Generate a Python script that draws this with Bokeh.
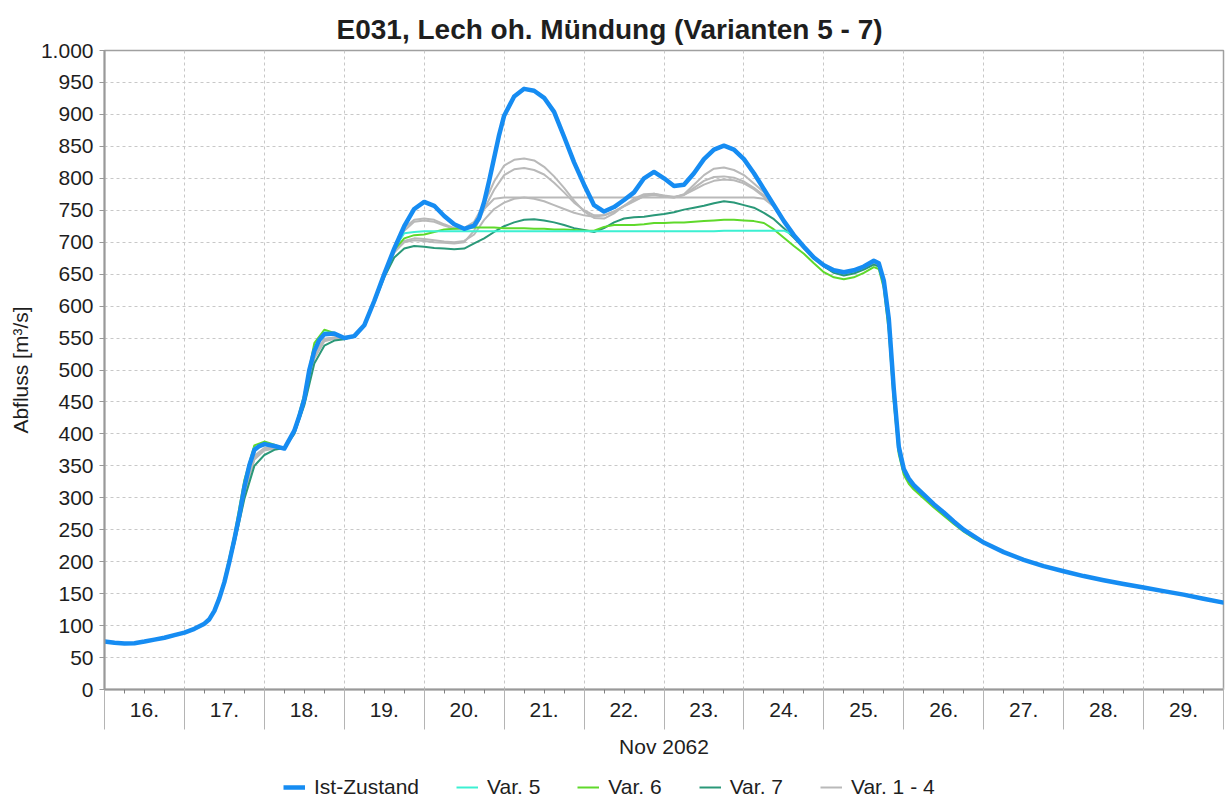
from bokeh.plotting import figure
from bokeh.layouts import column
from bokeh.models import FixedTicker, Legend, LegendItem, LinearAxis, Range1d
from bokeh.embed import file_html
from bokeh.resources import INLINE

FONT = "Liberation Sans"

# ---------------- data ----------------
days_ist = [16.0, 16.125, 16.25, 16.375, 16.5, 16.625, 16.75, 16.875, 17.0, 17.125, 17.25, 17.3125, 17.375,
            17.4375, 17.5, 17.5625, 17.625, 17.6875, 17.75, 17.8125, 17.875, 17.9375, 18.0, 18.125, 18.25,
            18.375, 18.4375, 18.5, 18.5625, 18.625, 18.6875, 18.75, 18.875,
            19.0, 19.125, 19.25, 19.375, 19.5, 19.625, 19.75, 19.875, 20.0, 20.125, 20.25, 20.375,
            20.5, 20.625, 20.6875, 20.75, 20.8125, 20.875, 20.9375, 21.0, 21.125, 21.25, 21.375, 21.5,
            21.625, 21.75, 21.875,
            22.0, 22.125, 22.25, 22.375, 22.5, 22.625, 22.75, 22.875, 23.0, 23.125, 23.25, 23.375,
            23.5, 23.625, 23.75, 23.875, 24.0, 24.125, 24.25, 24.375, 24.5, 24.625, 24.75, 24.875,
            25.0, 25.125, 25.25, 25.375, 25.5, 25.625, 25.6875, 25.75, 25.8125, 25.875, 25.9375,
            26.0, 26.0625, 26.125, 26.25, 26.375, 26.5, 26.625, 26.75, 26.875, 27.0,
            27.25, 27.5, 27.75, 28.0, 28.25, 28.5, 28.75, 29.0, 29.25, 29.5, 29.75, 30.0]
ist = [75, 73, 72, 72.5, 75, 78, 81, 85, 89, 95, 103, 110, 123,
       143, 168, 200, 235, 273, 317, 351, 375, 381, 384, 381, 377,
       405, 428, 455, 500, 530, 547, 556, 557,
       550, 553, 570, 608, 650, 690, 725, 752, 763, 757, 741, 728,
       721, 726, 738, 763, 796, 832, 868, 898, 928, 940, 937, 926,
       904, 865, 825,
       790, 758, 748, 755, 766, 778, 800, 810, 800, 788, 790, 808,
       830, 845, 851, 845, 830, 808, 783, 758, 733, 711, 693, 676,
       664, 656, 653, 656, 662, 671, 667, 640, 580, 470, 380,
       345, 330, 320, 305, 290, 277, 263, 250, 240, 230,
       215, 203, 193, 185, 177.5, 171, 165, 159.5, 154, 148.5, 142, 136]

days_var = [17.5, 17.625, 17.75, 17.875, 18.0, 18.125, 18.25, 18.375, 18.5, 18.625, 18.75, 18.875,
            19.0, 19.125, 19.25, 19.375, 19.5, 19.625, 19.75, 19.875, 20.0, 20.125, 20.25, 20.375,
            20.5, 20.625, 20.75, 20.875, 21.0, 21.125, 21.25, 21.375, 21.5, 21.625, 21.75, 21.875,
            22.0, 22.125, 22.25, 22.375, 22.5, 22.625, 22.75, 22.875, 23.0, 23.125, 23.25, 23.375,
            23.5, 23.625, 23.75, 23.875, 24.0, 24.125, 24.25, 24.375, 24.5, 24.625, 24.75, 24.875,
            25.0, 25.125, 25.25, 25.375, 25.5, 25.625, 25.6875, 25.75, 25.8125, 25.875, 25.9375,
            26.0, 26.0625, 26.125, 26.25, 26.375, 26.5, 26.625, 26.75, 26.875, 27.0]

var5 = [170, 236, 320, 378, 385, 381, 377, 405, 457, 534, 559, 557,
        550, 553, 570, 608, 650, 690, 714, 716, 717, 717, 717, 717,
        717, 717, 717, 717, 717, 717, 717, 717, 717, 717, 717, 717,
        717, 717, 717, 717, 717, 717, 717, 717, 717, 717, 717, 717,
        717, 717, 718, 718, 718, 718, 718, 718, 718, 711, 693, 676,
        664, 656, 653, 656, 662, 671, 667, 640, 580, 470, 380,
        345, 330, 320, 305, 290, 277, 263, 250, 240, 230]
var6 = [172, 242, 328, 382, 388, 383, 377, 405, 462, 542, 563, 558,
        550, 553, 570, 608, 650, 688, 706, 711, 712, 716, 720, 721,
        722, 723, 723, 723, 722, 722, 722, 721, 721, 720, 720, 719,
        718, 718, 724, 727, 727, 727, 728, 730, 730, 731, 731, 732,
        733, 734, 735, 735, 734, 733, 730, 720, 707, 694, 682, 667,
        653, 645, 642, 645, 652, 661, 658, 628, 560, 450, 368,
        336, 322, 313, 299, 285, 272, 259, 247, 237, 229]
var7 = [168, 228, 298, 350, 367, 375, 378, 400, 445, 510, 538, 546,
        548, 553, 570, 605, 645, 676, 690, 694, 693, 691, 690, 689,
        690, 698, 706, 716, 725, 731, 735, 736, 734, 731, 727, 722,
        719, 716, 722, 731, 737, 739, 740, 742, 744, 747, 751, 754,
        757, 761, 764, 762, 758, 754, 746, 736, 722, 707, 691, 676,
        662, 652, 648, 651, 657, 665, 662, 634, 568, 458, 372,
        340, 326, 316, 302, 288, 275, 262, 249, 239, 230]
var1 = [170, 233, 310, 364, 377, 379, 378, 402, 450, 522, 548, 551,
        549, 553, 570, 607, 648, 688, 722, 735, 737, 735, 728, 722,
        722, 732, 760, 795, 820, 829, 831, 828, 818, 803, 785, 765,
        748, 738, 737, 745, 757, 768, 775, 776, 772, 770, 775, 790,
        805, 815, 817, 813, 805, 792, 778, 758, 735, 712, 692, 675,
        663, 655, 651, 654, 660, 669, 665, 636, 572, 462, 375,
        342, 328, 318, 303, 289, 276, 262, 250, 240, 230]
var2 = [170, 232, 308, 361, 375, 378, 378, 402, 449, 520, 546, 550,
        549, 553, 570, 607, 648, 688, 718, 732, 734, 732, 726, 721,
        721, 728, 752, 782, 805, 814, 816, 813, 806, 793, 778, 762,
        750, 742, 742, 748, 757, 765, 772, 774, 771, 770, 774, 785,
        796, 802, 803, 801, 795, 785, 773, 756, 734, 711, 691, 675,
        663, 655, 651, 654, 660, 669, 665, 636, 572, 462, 375,
        342, 328, 318, 303, 289, 276, 262, 250, 240, 230]
var3 = [170, 233, 312, 366, 378, 379, 378, 403, 451, 524, 549, 551,
        549, 553, 570, 607, 648, 684, 700, 703, 702, 700, 699, 698,
        700, 718, 752, 768, 770, 770, 770, 770, 770, 770, 770, 770,
        770, 770, 770, 770, 770, 770, 770, 770, 770, 770, 770, 770,
        770, 770, 770, 770, 770, 770, 768, 756, 734, 711, 691, 675,
        662, 654, 650, 653, 659, 668, 664, 635, 570, 460, 374,
        341, 327, 317, 302, 288, 275, 262, 249, 239, 230]
var4 = [169, 231, 306, 360, 374, 377, 378, 401, 448, 518, 545, 549,
        549, 553, 570, 607, 648, 684, 702, 706, 705, 703, 701, 700,
        702, 712, 735, 752, 762, 768, 770, 768, 764, 758, 752, 746,
        742, 740, 742, 748, 756, 764, 772, 776, 773, 771, 774, 782,
        790, 796, 798, 797, 792, 783, 771, 755, 733, 710, 690, 674,
        662, 654, 650, 653, 659, 668, 664, 635, 570, 460, 374,
        341, 327, 317, 302, 288, 275, 262, 249, 239, 230]

day_ticks = list(range(16, 31))
label_ticks = [d + 0.5 for d in range(16, 30)]
quarter_ticks = [d + q for d in range(16, 30) for q in (0.25, 0.5, 0.75)]
day_labels = ["16.", "17.", "18.", "19.", "20.", "21.", "22.", "23.", "24.", "25.", "26.", "27.", "28.", "29."]
y_ticks = list(range(0, 1001, 50))
series_names = ["Ist-Zustand", "Var. 5", "Var. 6", "Var. 7", "Var. 1 - 4"]

COL_IST = "#168cf2"
COL_V5 = "#3cf0d2"
COL_V6 = "#5fd92b"
COL_V7 = "#2a9878"
COL_GRAY = "#b9b9b9"
TEXT = "#1e1e1e"

# ---------------- main figure ----------------
p = figure(width=1226, height=766, output_backend="svg", toolbar_location=None,
           x_range=Range1d(16, 30), y_range=Range1d(0, 1000),
           min_border_left=104, min_border_right=3, min_border_top=50, min_border_bottom=77)
p.background_fill_color = "white"
p.border_fill_color = "white"
p.outline_line_color = "#a0a0a0"
p.outline_line_width = 1.5

p.title.text = "E031, Lech oh. Mündung (Varianten 5 - 7)"
p.title.text_font = FONT
p.title.text_font_size = "28px"
p.title.text_font_style = "bold"
p.title.text_color = TEXT
p.title.align = "left"
p.title.offset = 232
p.title.standoff = 11

# x axis A: day labels (centred in each day) + quarter-day ticks
xa = p.xaxis[0]
xa.ticker = FixedTicker(ticks=label_ticks, minor_ticks=quarter_ticks)
xa.major_label_overrides = {t: lab for t, lab in zip(label_ticks, day_labels)}
xa.major_label_text_font = FONT
xa.major_label_text_font_size = "21px"
xa.major_label_text_color = TEXT
xa.major_label_standoff = 9
xa.major_tick_line_color = None
xa.major_tick_out = 4
xa.major_tick_in = 0
xa.minor_tick_out = 4
xa.minor_tick_in = 0
xa.minor_tick_line_color = "#808080"
xa.axis_line_color = "#999999"
xa.axis_line_width = 2

# x axis B: day boundary separators + "Nov 2062"
xb = LinearAxis(ticker=FixedTicker(ticks=day_ticks, minor_ticks=[]))
xb.axis_line_color = None
xb.major_tick_line_color = "#b4b4b4"
xb.major_tick_in = 32
xb.major_tick_out = 10
xb.minor_tick_line_color = None
xb.major_label_overrides = {d: "" for d in day_ticks}
xb.major_label_standoff = 0
xb.major_label_text_font_size = "1px"
xb.axis_label = "Nov 2062"
xb.axis_label_text_font = FONT
xb.axis_label_text_font_size = "21px"
xb.axis_label_text_font_style = "normal"
xb.axis_label_text_color = TEXT
xb.axis_label_standoff = 5
p.add_layout(xb, "below")

# y axis
ya = p.yaxis[0]
ya.ticker = FixedTicker(ticks=y_ticks)
ya.major_label_overrides = {1000: "1.000"}
ya.major_label_text_font = FONT
ya.major_label_text_font_size = "21px"
ya.major_label_text_color = TEXT
ya.major_label_standoff = 6
ya.major_tick_out = 5
ya.major_tick_in = 0
ya.major_tick_line_color = "#999999"
ya.minor_tick_line_color = None
ya.axis_line_color = "#999999"
ya.axis_line_width = 2
ya.axis_label = "Abfluss [m³/s]"
ya.axis_label_text_font = FONT
ya.axis_label_text_font_size = "21px"
ya.axis_label_text_font_style = "normal"
ya.axis_label_text_color = TEXT
ya.axis_label_standoff = 6

p.xgrid[0].ticker = FixedTicker(ticks=day_ticks)
for g in (p.xgrid[0], p.ygrid[0]):
    g.grid_line_color = "#c8c8c8"
    g.grid_line_dash = "3 3"
    g.grid_line_width = 1

# ---------------- lines ----------------
kw = dict(line_join="round", line_cap="round")
r_g1 = p.line(days_var, var1, line_color=COL_GRAY, line_width=2, **kw)
r_g2 = p.line(days_var, var2, line_color=COL_GRAY, line_width=2, **kw)
r_g3 = p.line(days_var, var3, line_color=COL_GRAY, line_width=2, **kw)
r_g4 = p.line(days_var, var4, line_color=COL_GRAY, line_width=2, **kw)
r_v7 = p.line(days_var, var7, line_color=COL_V7, line_width=2, **kw)
r_v6 = p.line(days_var, var6, line_color=COL_V6, line_width=2, **kw)
r_v5 = p.line(days_var, var5, line_color=COL_V5, line_width=2, **kw)
r_ist = p.line(days_ist, ist, line_color=COL_IST, line_width=4.5, **kw)

# ---------------- legend strip (separate small figure below) ----------------
pl = figure(width=1226, height=31, output_backend="svg", toolbar_location=None,
            x_range=Range1d(0, 1), y_range=Range1d(0, 1),
            x_axis_type=None, y_axis_type=None, min_border=0)
pl.outline_line_color = None
pl.background_fill_color = "white"
pl.border_fill_color = "white"
# legend proxies: same styles as the series, data lies outside this strip's ranges
leg_src = [(days_ist, ist, COL_IST, 4.5), (days_var, var5, COL_V5, 2), (days_var, var6, COL_V6, 2),
           (days_var, var7, COL_V7, 2), (days_var, var1, COL_GRAY, 2)]
leg_renderers = [pl.line(x[:2], y[:2], line_color=c, line_width=w) for x, y, c, w in leg_src]

legend = Legend(items=[LegendItem(label=n, renderers=[r]) for n, r in zip(series_names, leg_renderers)],
                orientation="horizontal", location=(179, -2))
legend.label_text_font = FONT
legend.label_text_font_size = "21px"
legend.label_text_color = TEXT
legend.glyph_width = 22
legend.label_standoff = 9
legend.spacing = 37
legend.border_line_color = None
legend.background_fill_alpha = 0
legend.padding = 3
legend.margin = 0
pl.add_layout(legend)

layout = column(p, pl, spacing=0)
open("out.html", "w").write(file_html(layout, INLINE))
